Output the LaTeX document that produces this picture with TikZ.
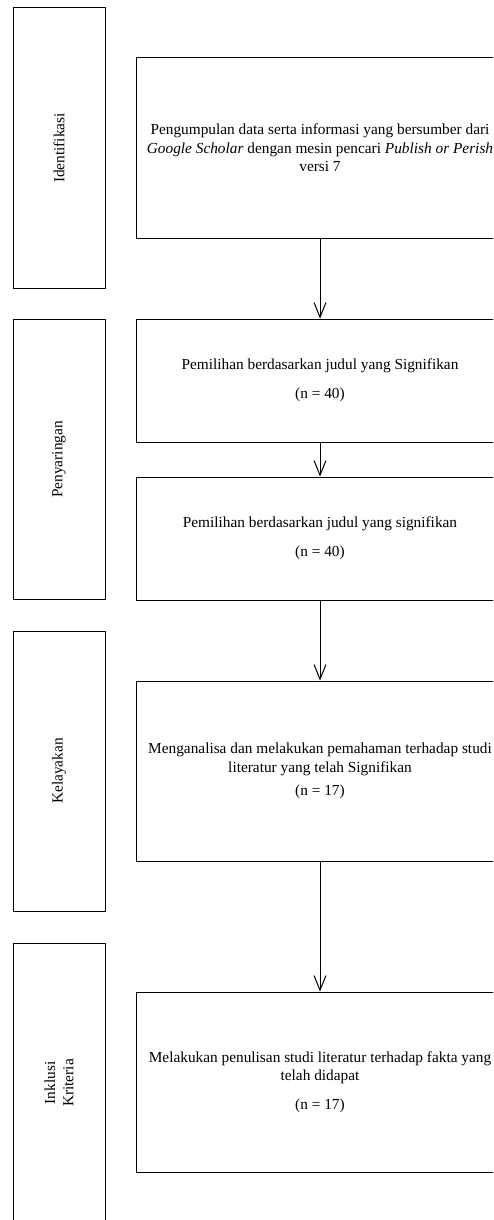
\documentclass[tikz,border=0pt]{standalone}
\usepackage{fontspec}
\setmainfont{Liberation Serif}
\usetikzlibrary{arrows.meta}
\begin{document}
\begin{tikzpicture}[x=0.75pt, y=-0.75pt, font=\fontsize{11.5}{13.8}\selectfont,
	stage/.style={draw, line width=0.75pt, rotate=90, minimum width=210pt, minimum height=69pt, inner sep=0pt, align=center},
	proses/.style={draw, line width=0.75pt, minimum width=276pt, inner sep=0pt, align=center},
	panah/.style={line width=0.75pt, -{Straight Barb[length=11pt, width=9pt]}}]
	\clip (0,0) rectangle (493,1220);
	
	%tahapan di kiri
	\node[stage] (identifikasi) at (59, 148){Identifikasi};
	\node[stage] (penyaringan) at (59, 459.5){Penyaringan};
	\node[stage] (kelayakan) at (59, 771){Kelayakan};
	\node[stage] (inklusi) at (59, 1083){Inklusi\\Kriteria};
	
	%kotak proses
	\node[proses, minimum height=135pt] (kumpul) at (320, 148){Pengumpulan data serta informasi yang bersumber dari\\\textit{Google Scholar} dengan mesin pencari \textit{Publish or Perish}\\versi 7};
	\node[proses, minimum height=92.25pt] (judul) at (320, 380.5){Pemilihan berdasarkan judul yang Signifikan\\[8pt](n = 40)};
	\node[proses, minimum height=92.25pt] (judulb) at (320, 538.5){Pemilihan berdasarkan judul yang signifikan\\[8pt](n = 40)};
	\node[proses, minimum height=135pt] (analisa) at (320, 771){Menganalisa dan melakukan pemahaman terhadap studi\\literatur yang telah Signifikan\\[4pt](n = 17)};
	\node[proses, minimum height=135pt] (tulis) at (320, 1082){Melakukan penulisan studi literatur terhadap fakta yang\\telah didapat\\[8pt](n = 17)};
	
	%panah
	\draw[panah] (kumpul) -- (judul);
	\draw[panah] (judul) -- (judulb);
	\draw[panah] (judulb) -- (analisa);
	\draw[panah] (analisa) -- (tulis);
\end{tikzpicture}
\end{document}
